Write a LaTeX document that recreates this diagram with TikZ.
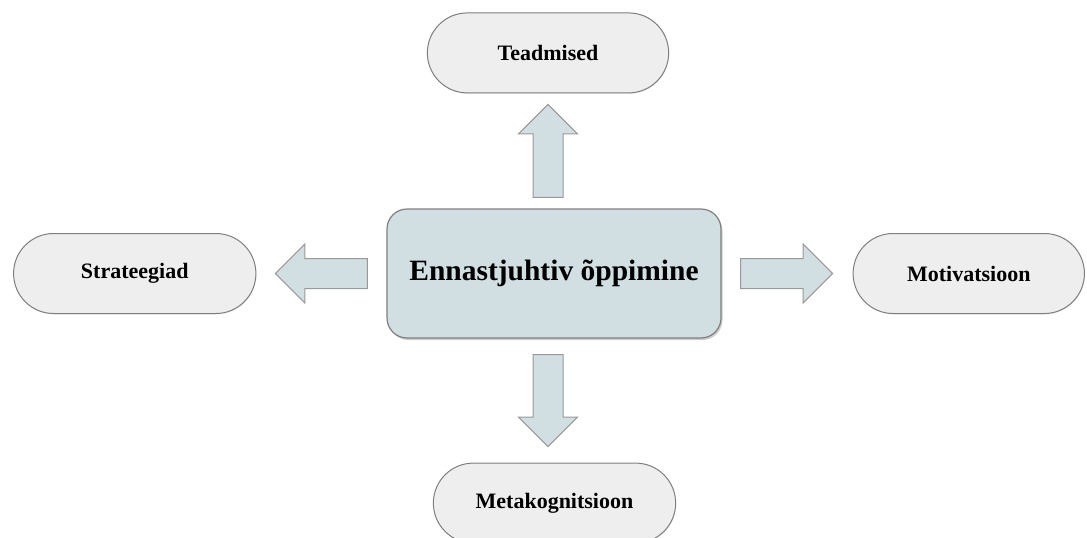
\documentclass[tikz,border=0pt]{standalone}
\usepackage{fontspec}
\setmainfont{Liberation Serif}
\usetikzlibrary{positioning}
\usetikzlibrary{shapes.misc}
\usetikzlibrary{shapes.arrows}
\usetikzlibrary{shadows}
\definecolor{boxblue}{HTML}{D1DFE3}
\definecolor{pillgray}{HTML}{EEEEEE}
\definecolor{edgegray}{HTML}{7F7F7F}
\definecolor{arrowedge}{HTML}{999999}
\tikzset{
  mainbox/.style={rectangle, rounded corners=20pt, draw=edgegray, line width=1.2pt,
    fill=boxblue, minimum width=334pt, minimum height=129pt,
    font=\bfseries\fontsize{29.5}{34}\selectfont,
    drop shadow={opacity=0.4, shadow xshift=1.5pt, shadow yshift=-2pt}},
  topic/.style={rounded rectangle, draw=edgegray, line width=1pt, fill=pillgray,
    minimum height=80pt, font=\bfseries\fontsize{22}{26}\selectfont,
    drop shadow={opacity=0.15, shadow xshift=0.5pt, shadow yshift=-1pt}},
  bigarrow/.style={single arrow, draw=arrowedge, line width=1pt, fill=boxblue,
    inner sep=14.5pt, outer sep=0pt, minimum width=0pt,
    single arrow head extend=14.5pt, single arrow tip angle=90, anchor=tail}
}
\begin{document}
\begin{tikzpicture}
  \useasboundingbox (0pt,0pt) rectangle (1087pt,-538pt);
  \node[mainbox] (main) at (554pt,-273.5pt) {Ennastjuhtiv õppimine};

  % block arrows out of the centre box
  \node[bigarrow, shape border rotate=90, minimum height=93pt] (upArrow)
    at ([xshift=-6pt, yshift=11pt]main.north) {};
  \node[bigarrow, shape border rotate=180, minimum height=92pt] (leftArrow)
    at ([xshift=-19pt]main.west) {};
  \node[bigarrow, minimum height=92pt] (rightArrow)
    at ([xshift=19pt]main.east) {};
  \node[bigarrow, shape border rotate=270, minimum height=92pt] (downArrow)
    at ([xshift=-6pt, yshift=-16pt]main.south) {};

  % the four parts
  \node[topic, minimum width=248pt, above=11pt of upArrow.tip] (knowledge) {Teadmised};
  \node[topic, minimum width=249pt, left=19pt of leftArrow.tip] (strategies) {Strateegiad};
  \node[topic, minimum width=238pt, right=20pt of rightArrow.tip] (motivation) {Motivatsioon};
  \node[topic, minimum width=249pt, below=16pt of downArrow.tip, xshift=6.5pt] (metacog) {Metakognitsioon};
\end{tikzpicture}
\end{document}
